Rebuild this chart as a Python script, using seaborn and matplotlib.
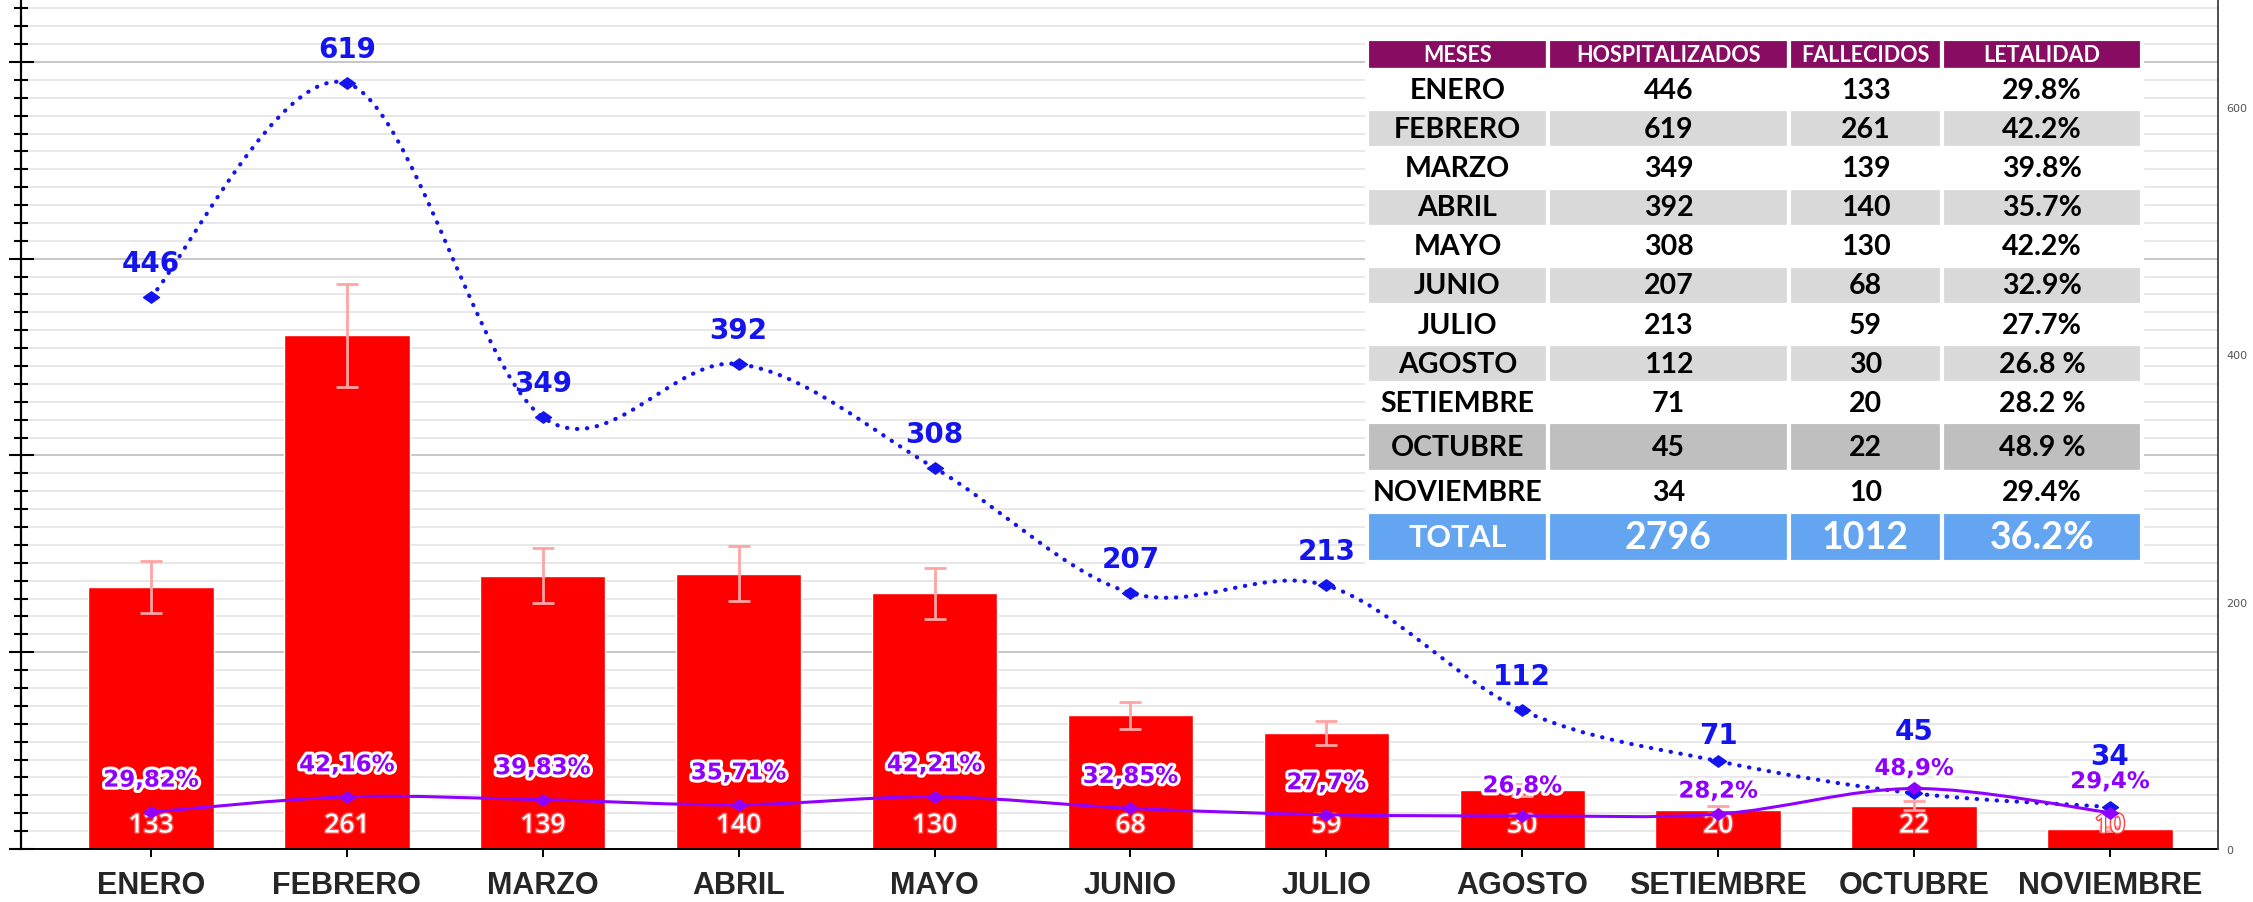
## load packages
import numpy as np
import pandas as pd
import matplotlib
matplotlib.use("Agg")
import matplotlib.pyplot as plt
import matplotlib.patheffects as pe
from matplotlib.path import Path
from matplotlib.patches import PathPatch
from matplotlib.ticker import MultipleLocator
import seaborn as sns

## data
meses = ["ENERO", "FEBRERO", "MARZO", "ABRIL", "MAYO", "JUNIO", "JULIO",
         "AGOSTO", "SETIEMBRE", "OCTUBRE", "NOVIEMBRE"]
hospitalizados = [446, 619, 349, 392, 308, 207, 213, 112, 71, 45, 34]
fallecidos = [133, 261, 139, 140, 130, 68, 59, 30, 20, 22, 10]
letalidad = [29.82, 42.16, 39.83, 35.71, 42.21, 32.85, 27.7, 26.8, 28.2, 48.9, 29.4]
letalidad_labels = ["29,82%", "42,16%", "39,83%", "35,71%", "42,21%", "32,85%",
                    "27,7%", "26,8%", "28,2%", "48,9%", "29,4%"]
letalidad_tabla = ["29.8%", "42.2%", "39.8%", "35.7%", "42.2%", "32.9%",
                   "27.7%", "26.8 %", "28.2 %", "48.9 %", "29.4%"]
table_header = ["MESES", "HOSPITALIZADOS", "FALLECIDOS", "LETALIDAD"]
total_row = ["TOTAL", "2796", "1012", "36.2%"]
error_pct = 0.10  # percentage error bars on the deaths bars

df = pd.DataFrame({"mes": meses, "fallecidos": fallecidos})
pos = np.arange(len(meses))

## colors / label nudges (pixels above the marker)
RED = "#FF0000"
BLUE = "#1414EE"
PURPLE = "#9000FF"
blue_off_px = [34, 34, 34, 34, 34, 34, 34, 34, 26, 62, 51]
purple_off_px = [32, 32, 32, 32, 32, 32, 32, 30, 23, 20, 31]

## set theme
sns.set_theme(style="white")
plt.rcParams["font.family"] = ["DejaVu Sans"]


def smooth_path(xs, ys):
    # excel-like smoothed line: catmull-rom segments as cubic bezier
    xs = np.asarray(xs, float)
    ys = np.asarray(ys, float)
    px = np.concatenate([[xs[0]], xs, [xs[-1]]])
    py = np.concatenate([[ys[0]], ys, [ys[-1]]])
    verts = [(xs[0], ys[0])]
    codes = [Path.MOVETO]
    for i in range(1, len(xs)):
        c1 = (px[i] + (px[i + 1] - px[i - 1]) / 6, py[i] + (py[i + 1] - py[i - 1]) / 6)
        c2 = (px[i + 1] - (px[i + 2] - px[i]) / 6, py[i + 1] - (py[i + 2] - py[i]) / 6)
        verts += [c1, c2, (px[i + 1], py[i + 1])]
        codes += [Path.CURVE4] * 3
    return Path(verts, codes)


fig = plt.figure(figsize=(22.53, 9.03), dpi=100)
ax = fig.add_axes([20.7 / 2253, 53 / 903, 2197 / 2253, 850 / 903])

## bars (left axis)
sns.barplot(data=df, x="mes", y="fallecidos", color=RED, saturation=1,
            width=0.64, errorbar=None, ax=ax, zorder=2)
ax.errorbar(pos, fallecidos, yerr=error_pct * np.array(fallecidos), fmt="none",
            ecolor="#FFA3A3", elinewidth=2, capsize=8, capthick=2, zorder=3)

ax.set_xlim(-0.665, 10.55)
ax.set_ylim(0, 432)
ax.set_xlabel("")
ax.set_ylabel("")
ax.set_axisbelow(True)
ax.yaxis.set_major_locator(MultipleLocator(100))
ax.yaxis.set_minor_locator(MultipleLocator(100 / 11))
ax.grid(which="minor", axis="y", color="#E2E2E2", lw=1.1)
ax.grid(which="major", axis="y", color="#BDBDBD", lw=1.2)
ax.grid(which="both", axis="x", visible=False)
ax.tick_params(axis="y", which="major", direction="inout", length=18, width=1.5,
               left=True, labelleft=False, color="black")
ax.tick_params(axis="y", which="minor", direction="inout", length=9.5, width=1.5,
               left=True, color="black")
ax.tick_params(axis="x", direction="inout", length=12, width=1.4, bottom=True,
               pad=9, labelsize=22, color="black")
plt.setp(ax.get_xticklabels(), family="Liberation Sans", fontweight="bold")
for s in ["top", "right"]:
    ax.spines[s].set_visible(False)
ax.spines["left"].set_color("black")
ax.spines["left"].set_linewidth(1.6)
ax.spines["bottom"].set_color("black")
ax.spines["bottom"].set_linewidth(1.4)

# white counts inside the bars
for i, v in enumerate(fallecidos):
    ax.annotate(str(v), xy=(i, 0), xytext=(0, 16.5), textcoords="offset points",
                ha="center", va="center", color="white", fontsize=19,
                family="Open Sans", fontweight="semibold", zorder=4,
                path_effects=[pe.withStroke(linewidth=2, foreground="#FF4040")])

## lines (right axis)
ax2 = ax.twinx()
ax2.grid(False)
ax2.add_patch(PathPatch(smooth_path(pos, hospitalizados), fill=False, edgecolor=BLUE,
                        lw=3, linestyle=(0, (0.1, 2.3)), capstyle="round", zorder=3))
ax2.add_patch(PathPatch(smooth_path(pos, letalidad), fill=False, edgecolor=PURPLE,
                        lw=2.2, zorder=3))
diamond = [(-1.4, 0), (0, 1), (1.4, 0), (0, -1), (-1.4, 0)]
ax2.plot(pos, hospitalizados, linestyle="none", marker=diamond, ms=11.5,
         color=BLUE, zorder=4)
ax2.plot(pos, letalidad, linestyle="none", marker=diamond, ms=11.5,
         color=PURPLE, zorder=4)

for i, v in enumerate(hospitalizados):
    ax2.annotate(str(v), xy=(i, v), xytext=(0, blue_off_px[i] * 0.72),
                 textcoords="offset points", ha="center", va="center",
                 color=BLUE, fontsize=20, fontweight="bold", zorder=5)
for i, v in enumerate(letalidad):
    ax2.annotate(letalidad_labels[i], xy=(i, v), xytext=(0, purple_off_px[i] * 0.72),
                 textcoords="offset points", ha="center", va="center",
                 color=PURPLE, fontsize=16.5, fontweight="bold", zorder=5,
                 path_effects=[pe.withStroke(linewidth=4.5, foreground="white")])

ax2.set_xlim(-0.665, 10.55)
ax2.set_ylim(0, 687)
ax2.set_yticks([0, 200, 400, 600])
ax2.tick_params(axis="y", length=0, pad=6, labelsize=8, labelcolor="#555555")
for s in ["top", "left", "bottom"]:
    ax2.spines[s].set_visible(False)
ax2.spines["right"].set_color("#404040")
ax2.spines["right"].set_linewidth(1.3)

## summary table (top right)
tax = fig.add_axes([1367 / 2253, (903 - 563) / 903, 775 / 2253, 523 / 903])
tax.axis("off")
cell_text = [[m, str(h), str(f), l] for m, h, f, l in
             zip(meses, hospitalizados, fallecidos, letalidad_tabla)] + [total_row]
tab = tax.table(cellText=cell_text, colLabels=table_header,
                colWidths=[181, 241, 153, 200], cellLoc="center",
                bbox=[0, 0, 1, 1])
tab.auto_set_font_size(False)
row_h = [31] + [39] * 9 + [49, 40, 50]
n_rows = len(cell_text) + 1
for (r, c), cell in tab.get_celld().items():
    cell.set_height(row_h[r])
    cell.set_edgecolor("white")
    cell.set_linewidth(3)
    txt = cell.get_text()
    txt.set_family("Lato")
    txt.set_fontweight("bold")
    if r == 0:
        cell.set_facecolor("#870C62")
        txt.set_color("white")
        txt.set_fontsize(15.5)
    elif r == n_rows - 1:
        cell.set_facecolor("#63A5F1")
        txt.set_color("white")
        txt.set_fontsize(22 if c == 0 else 27)
    else:
        if r == 10:
            cell.set_facecolor("#BFBFBF")
        elif r % 2 == 0:
            cell.set_facecolor("#D9D9D9")
        else:
            cell.set_facecolor("white")
        txt.set_color("black")
        txt.set_fontsize(20.5)

fig.savefig("out.png", dpi=100)
